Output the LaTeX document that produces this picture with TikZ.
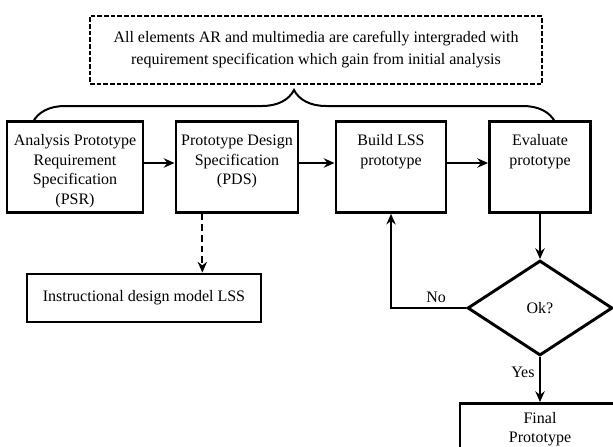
\documentclass[tikz,border=0pt]{standalone}
\usepackage{fontspec}
\setmainfont{Liberation Serif}
\usetikzlibrary{shapes.geometric, arrows.meta, positioning, decorations.pathreplacing}

\begin{document}
\begin{tikzpicture}[x=0.75pt,y=-0.75pt,
        font=\fontsize{12}{14.6}\selectfont,
        blk/.style={draw,line width=2.2pt,align=center,inner xsep=2pt,inner ysep=0pt},
        two/.style={text height=32.6pt,text depth=35.4pt},
        three/.style={text height=47.2pt,text depth=20.8pt},
        four/.style={text height=61.8pt,text depth=6.2pt},
        wide/.style={draw,line width=2.2pt,minimum height=36pt,inner sep=0pt},
        dec/.style={diamond,draw,line width=2.2pt,minimum width=108.75pt,
                    minimum height=71.25pt,inner sep=0pt},
        note/.style={draw,line width=1pt,dash pattern=on 3.5pt off 1.5pt,align=center,
                     minimum width=339pt,minimum height=51pt,
                     font=\fontsize{12}{16.5}\selectfont},
        arrow/.style={-{Stealth[length=8pt,width=7pt]},line width=1.5pt},
        dasharrow/.style={arrow,dash pattern=on 5pt off 3pt}]
        \useasboundingbox (0,0) rectangle (613,446);
        \clip (0,0) rectangle (613,446);

        \node[note] (note) at (316,50) {All elements AR and multimedia are carefully intergraded with\\requirement specification which gain from initial analysis};

        % main row
        \node[blk,four,minimum width=102pt]   (psr)   at (75,167)  {Analysis Prototype\\Requirement\\Specification\\(PSR)};
        \node[blk,three,minimum width=91.5pt] (pds)   at (237,167) {Prototype Design\\Specification\\(PDS)};
        \node[blk,two,minimum width=82.5pt]   (build) at (391,167) {Build LSS\\prototype};
        \node[blk,two,minimum width=75.75pt]  (eval)  at (540,167) {Evaluate\\prototype};

        \node[wide,minimum width=175.5pt] (idm) at (144,298) {Instructional design model LSS};
        \node[dec] (ok) at (540,308) {Ok?};
        \node[blk,text height=29.6pt,text depth=38.4pt,minimum width=120pt,anchor=north] (final) at (540,402) {Final\\Prototype};

        % brace under the note
        \coordinate (bl) at (33,122);
        \coordinate (br) at (555,122);
        \draw[line width=1.5pt,decorate,decoration={brace,amplitude=24pt}] (bl) -- (br);

        \draw[arrow] ([yshift=3pt]psr.east) -- ([yshift=3pt]pds.west);
        \draw[arrow] ([yshift=3pt]pds.east) -- ([yshift=3pt]build.west);
        \draw[arrow] ([yshift=3pt]build.east) -- ([yshift=3pt]eval.west);
        \draw[dasharrow] ([xshift=-26pt]pds.south) -- ([xshift=-26pt]pds.south |- idm.north);
        \draw[arrow] (eval) -- (ok);
        \draw[arrow,line width=1.2pt] (ok.west) -| node[above,pos=0.2] (no) {No} (build.south);
        \draw[arrow] (ok.south) -- node[left,pos=0.35] (yes) {Yes} (final.north);
      \end{tikzpicture}
\end{document}
